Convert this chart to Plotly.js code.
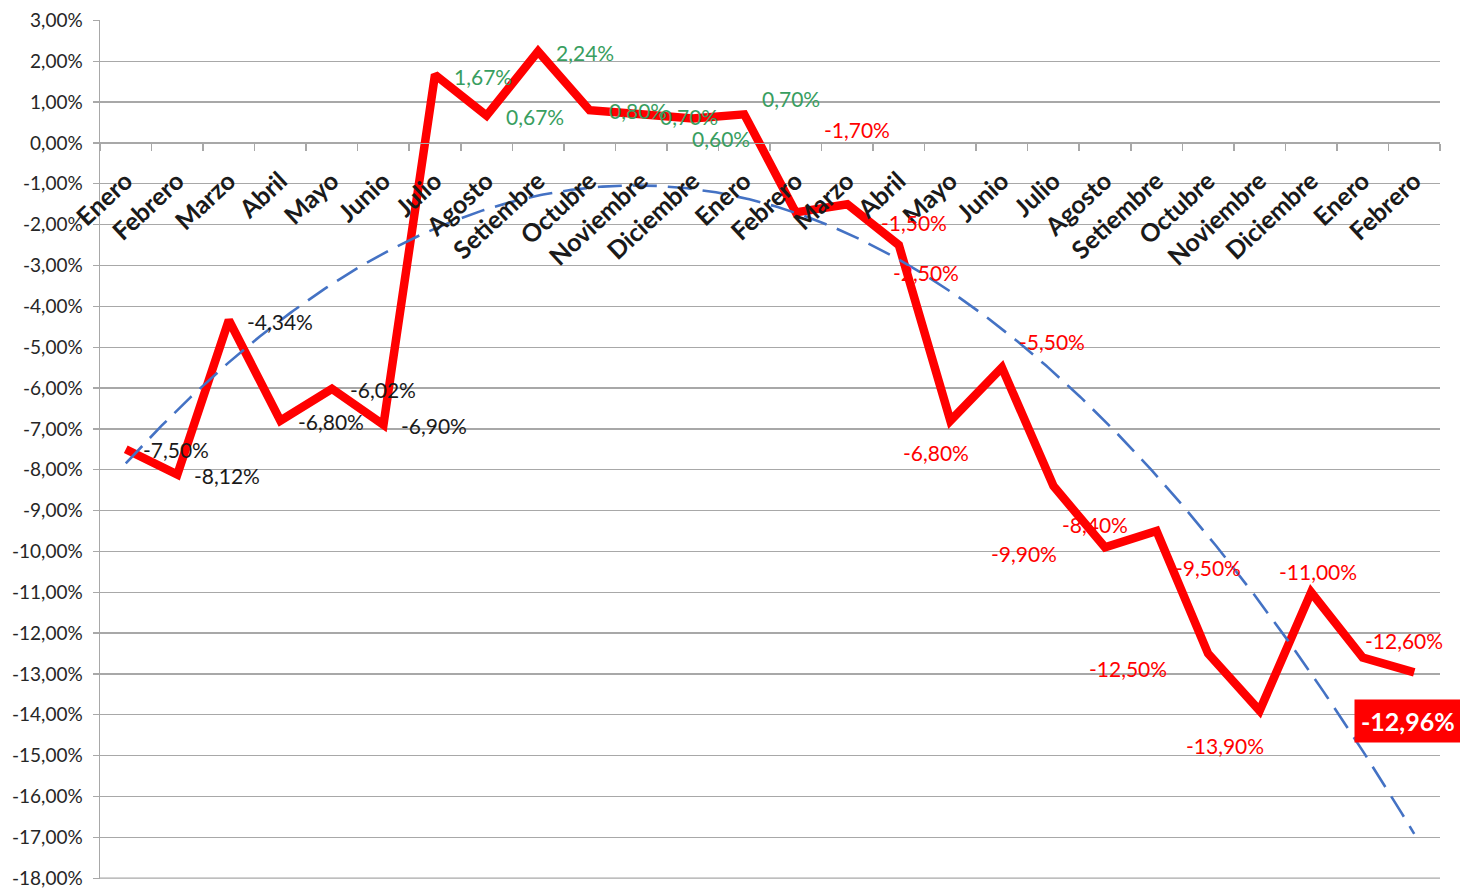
<!DOCTYPE html>
<html>
<head>
<meta charset="utf-8">
<script src="https://cdn.plot.ly/plotly-3.0.1.min.js"></script>
<style>
  html, body { margin: 0; padding: 0; background: #fff; }
  #chart { width: 1460px; height: 889px; }
</style>
</head>
<body>
<div id="chart"></div>
<script>
// ---- Data ----
const months = ["Enero","Febrero","Marzo","Abril","Mayo","Junio","Julio","Agosto","Setiembre","Octubre","Noviembre","Diciembre",
                "Enero","Febrero","Marzo","Abril","Mayo","Junio","Julio","Agosto","Setiembre","Octubre","Noviembre","Diciembre",
                "Enero","Febrero"];
const values = [-7.50, -8.12, -4.34, -6.80, -6.02, -6.90,
                1.67, 0.67, 2.24, 0.80, 0.70, 0.60, 0.70,
                -1.70, -1.50, -2.50, -6.80, -5.50, -8.40, -9.90, -9.50, -12.50, -13.90, -11.00, -12.60, -12.96];
const yTickVals = [3, 2, 1, 0, -1, -2, -3, -4, -5, -6, -7, -8, -9, -10, -11, -12, -13, -14, -15, -16, -17, -18];
const yTickText = ["3,00%","2,00%","1,00%","0,00%","-1,00%","-2,00%","-3,00%","-4,00%","-5,00%","-6,00%","-7,00%","-8,00%",
                   "-9,00%","-10,00%","-11,00%","-12,00%","-13,00%","-14,00%","-15,00%","-16,00%","-17,00%","-18,00%"];

// ---- Label placement (pixel offsets of each data label from its point; style only) ----
const labelDX = [50, 50, 51, 51, 51, 51, 48, 48, 47, 48, 48, 28, 47, 61, 67, 27, -14, 50, 42, -81, 51, -80, -35, 7, 41, -6];
const labelDY = [0, 1, 1, 1, 1, 1, 2, 1, 1, 0, 2, 20, -16, -83, 18, 27, 32, -26, 38, 6, 37, 15, 35, -21, -17, 49];

const idx = values.map((v, i) => i);

// ---- Polynomial (order 2) least-squares trendline computed from the data ----
function quadFit(xs, ys) {
  let S = [0,0,0,0,0], T = [0,0,0];
  for (let k = 0; k < xs.length; k++) {
    let p = 1;
    for (let j = 0; j < 5; j++) { S[j] += p; if (j < 3) T[j] += p * ys[k]; p *= xs[k]; }
  }
  const A = [[S[0],S[1],S[2],T[0]],[S[1],S[2],S[3],T[1]],[S[2],S[3],S[4],T[2]]];
  for (let c = 0; c < 3; c++) {
    for (let r = c + 1; r < 3; r++) {
      const f = A[r][c] / A[c][c];
      for (let k = c; k < 4; k++) A[r][k] -= f * A[c][k];
    }
  }
  const b = [0,0,0];
  for (let r = 2; r >= 0; r--) {
    let s = A[r][3];
    for (let k = r + 1; k < 3; k++) s -= A[r][k] * b[k];
    b[r] = s / A[r][r];
  }
  return b;
}
const coef = quadFit(idx, values);
const trendX = [], trendY = [];
for (let t = 0; t <= (values.length - 1) * 20; t++) {
  const x = t / 20;
  trendX.push(x);
  trendY.push(coef[0] + coef[1] * x + coef[2] * x * x);
}

const fmt = v => v.toFixed(2).replace('.', ',') + '%';
const GREEN = '#389E60', RED = '#FF0000', BLACK = '#1a1a1a';
const groupColor = i => (i < 6 ? BLACK : (i < 13 ? GREEN : RED));
const FONT = 'Lato, "Open Sans", sans-serif';
const GRID = '#A8A8A8';

const annotations = values.map((v, i) => {
  const last = i === values.length - 1;
  return {
    x: i, y: v, xref: 'x', yref: 'y',
    text: last ? '<b>' + fmt(v) + '</b>' : fmt(v),
    showarrow: false,
    xanchor: 'center', yanchor: 'middle',
    xshift: labelDX[i], yshift: -labelDY[i],
    font: { family: FONT, size: last ? 25 : 21, color: last ? '#ffffff' : groupColor(i) },
    bgcolor: last ? RED : 'rgba(0,0,0,0)',
    borderpad: last ? 6 : 0
  };
});

const traces = [
  {
    x: idx, y: values, type: 'scatter', mode: 'lines',
    line: { color: RED, width: 8.5 },
    hoverinfo: 'skip', showlegend: false
  },
  {
    x: trendX, y: trendY, type: 'scatter', mode: 'lines',
    xaxis: 'x2', yaxis: 'y',
    line: { color: '#4472C4', width: 2.6, dash: '24px,11px' },
    hoverinfo: 'skip', showlegend: false
  }
];

const yMin = -18.02, yMax = 3.01;
const zeroPos = (0 - yMin) / (yMax - yMin);
const bottomGrid = Math.min(...yTickVals);
const layout = {
  width: 1460, height: 889,
  margin: { l: 100, r: 20, t: 20, b: 10 },
  paper_bgcolor: '#ffffff', plot_bgcolor: '#ffffff',
  showlegend: false,
  font: { family: FONT, color: BLACK },
  xaxis: {
    type: 'linear', range: [-0.5, values.length - 0.5],
    anchor: 'free', position: zeroPos,
    tickmode: 'array', tickvals: idx, ticktext: months,
    tickangle: -43,
    tickfont: { family: FONT, size: 25, color: BLACK, weight: 'bold' },
    ticklabelstandoff: 12,
    ticks: '', showgrid: false, zeroline: false,
    showline: true, linecolor: GRID, linewidth: 1.5,
    fixedrange: true
  },
  xaxis2: {
    type: 'linear', range: [-0.5, values.length - 0.5],
    overlaying: 'x', anchor: 'free', position: zeroPos,
    tickmode: 'array', tickvals: idx.concat([values.length]).map(i => i - 0.5),
    ticks: 'outside', ticklen: 7, tickwidth: 1.5, tickcolor: GRID,
    showticklabels: false, showgrid: false, zeroline: false, showline: false,
    fixedrange: true
  },
  yaxis: {
    range: [yMin, yMax],
    tickmode: 'array', tickvals: yTickVals, ticktext: yTickText,
    tickfont: { family: FONT, size: 19, color: '#262626' },
    ticklabelstandoff: 6,
    ticklabeloverflow: 'allow',
    showgrid: true, gridcolor: GRID, gridwidth: 1.3,
    zeroline: false,
    showline: true, linecolor: GRID, linewidth: 1.5,
    ticks: 'outside', ticklen: 6, tickcolor: GRID, tickwidth: 1.3,
    fixedrange: true
  },
  shapes: [{
    type: 'line', xref: 'paper', yref: 'y', x0: 0, x1: 1, y0: bottomGrid, y1: bottomGrid,
    line: { color: GRID, width: 1.3 }, layer: 'below'
  }],
  annotations: annotations
};

Plotly.newPlot('chart', traces, layout, { displayModeBar: false, staticPlot: true });
</script>
</body>
</html>
